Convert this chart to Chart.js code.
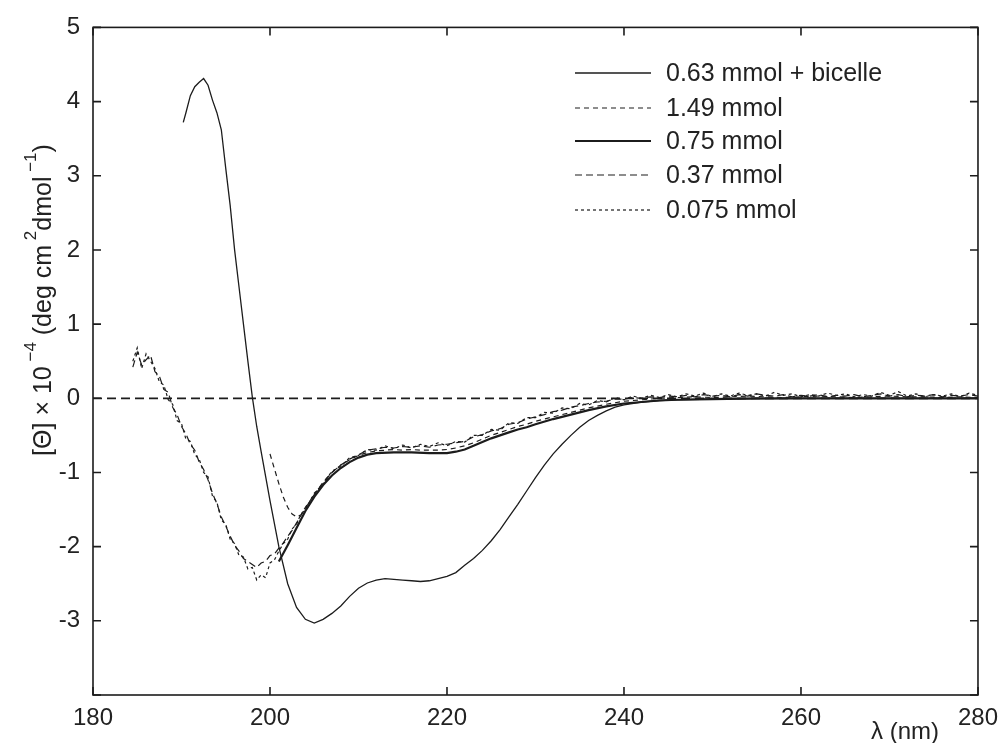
<!DOCTYPE html>
<html>
<head>
<meta charset="utf-8">
<script src="https://cdn.jsdelivr.net/npm/chart.js@4.4.1/dist/chart.umd.min.js"></script>
<style>
  html, body { margin: 0; padding: 0; background: #fff; }
  #wrap { width: 1007px; height: 743px; }
</style>
</head>
<body>
<div id="wrap"><canvas id="cvs_cd"></canvas></div>
<script>
// series names (legend order)
const nomes = ["0.63 mmol + bicelle", "1.49 mmol", "0.75 mmol", "0.37 mmol", "0.075 mmol"];

// 0.63 mmol + bicelle
const wlBicelle = [190.2, 190.5, 191, 191.5, 192, 192.5, 193, 193.5, 194, 194.5, 195, 195.5, 196, 196.5, 197, 197.5, 198, 198.5, 199, 199.5, 200,
  201, 202, 203, 204, 205, 206, 207, 208, 209, 210, 211, 212, 213, 214, 215, 216, 217, 218, 219, 220, 221, 222, 223, 224, 225,
  226, 227, 228, 229, 230, 231, 232, 233, 234, 235, 236, 237, 238, 239, 240, 242, 244, 246, 250, 260, 270, 280];
const thBicelle = [3.72, 3.85, 4.08, 4.2, 4.26, 4.31, 4.22, 4.02, 3.85, 3.62, 3.1, 2.6, 2.0, 1.5, 1.0, 0.5, 0.02, -0.38, -0.72, -1.05, -1.38,
  -2.0, -2.5, -2.82, -2.98, -3.03, -2.98, -2.9, -2.8, -2.67, -2.56, -2.49, -2.45, -2.43, -2.44, -2.45, -2.46, -2.47, -2.46, -2.43, -2.4, -2.35, -2.25, -2.16, -2.05, -1.92,
  -1.77, -1.6, -1.43, -1.25, -1.07, -0.9, -0.75, -0.62, -0.5, -0.39, -0.3, -0.23, -0.17, -0.12, -0.09, -0.05, -0.03, -0.02, -0.01, 0, 0, 0];

// 1.49 mmol
const wl149 = [200, 200.5, 201, 201.5, 202, 202.5, 203, 203.5, 204, 205, 206, 207, 208, 209, 210, 211, 212, 213, 214, 215, 216, 217, 218, 219, 220,
  221, 222, 223, 224, 225, 226, 227, 228, 229, 230, 232, 234, 236, 238, 240, 242, 244, 246, 248, 250, 252, 254, 256, 258, 260,
  262, 264, 266, 268, 270, 272, 274, 276, 278, 280];
const th149 = [-0.75, -0.95, -1.15, -1.33, -1.47, -1.56, -1.6, -1.57, -1.47, -1.3, -1.13, -1.0, -0.9, -0.83, -0.77, -0.73, -0.71, -0.7, -0.69, -0.7, -0.69, -0.7, -0.7, -0.7, -0.69,
  -0.67, -0.64, -0.6, -0.55, -0.5, -0.46, -0.42, -0.38, -0.35, -0.31, -0.25, -0.19, -0.13, -0.08, -0.04, -0.02, 0.0, 0.01, 0.02, 0.01, 0.02, 0.03, 0.02, 0.01, 0.02,
  0.03, 0.02, 0.01, 0.02, 0.03, 0.02, 0.02, 0.01, 0.02, 0.01];

// 0.75 mmol
const wl075 = [201, 202, 203, 204, 205, 206, 207, 208, 209, 210, 211, 212, 214, 216, 218, 220, 221, 222, 223, 224, 225, 226, 227, 228, 229, 230,
  232, 234, 236, 238, 240, 242, 244, 246, 250, 255, 260, 265, 270, 275, 280];
const th075 = [-2.2, -1.98, -1.75, -1.52, -1.33, -1.17, -1.04, -0.94, -0.86, -0.8, -0.76, -0.74, -0.73, -0.73, -0.74, -0.74, -0.72, -0.69, -0.64, -0.59, -0.54, -0.5, -0.46, -0.42, -0.39, -0.35,
  -0.28, -0.22, -0.16, -0.11, -0.07, -0.05, -0.03, -0.02, -0.01, 0, 0, 0, 0, 0, 0];

// 0.37 mmol and 0.075 mmol share the same wavelengths
const wlDil = [184.5, 185, 185.5, 186, 186.5, 187, 187.5, 188, 188.5, 189, 189.5, 190, 190.5, 191, 191.5, 192, 192.5, 193, 193.5, 194,
  194.5, 195, 195.5, 196, 196.5, 197, 197.5, 198, 198.5, 199, 199.5, 200, 200.5, 201, 201.5, 202, 202.5, 203, 203.5, 204,
  205, 206, 207, 208, 209, 210, 211, 212, 213, 214, 215, 216, 217, 218, 219, 220, 221, 222, 223, 224, 225, 226, 227, 228, 229, 230,
  231, 232, 233, 234, 235, 236, 237, 238, 239, 240, 241, 242, 243, 244, 245, 246, 247, 248, 249, 250, 251, 252, 253, 254, 255,
  256, 257, 258, 259, 260, 261, 262, 263, 264, 265, 266, 267, 268, 269, 270, 271, 272, 273, 274, 275, 276, 277, 278, 279, 280];
const th037 = [0.42, 0.62, 0.45, 0.52, 0.58, 0.36, 0.3, 0.12, 0.08, -0.12, -0.22, -0.38, -0.48, -0.62, -0.7, -0.86, -0.96, -1.1, -1.28, -1.42,
  -1.6, -1.72, -1.86, -1.98, -2.06, -2.16, -2.2, -2.24, -2.28, -2.22, -2.2, -2.12, -2.1, -2.02, -1.95, -1.86, -1.78, -1.68, -1.58, -1.48,
  -1.3, -1.14, -1.0, -0.9, -0.82, -0.76, -0.7, -0.68, -0.66, -0.67, -0.65, -0.66, -0.64, -0.66, -0.63, -0.62, -0.6, -0.58, -0.52, -0.49, -0.44, -0.41, -0.35, -0.33, -0.28, -0.25,
  -0.22, -0.18, -0.16, -0.12, -0.1, -0.07, -0.05, -0.04, -0.01, -0.01, 0.01, 0.0, 0.02, 0.01, 0.03, 0.02, 0.04, 0.02, 0.05, 0.03, 0.04, 0.02, 0.05, 0.03, 0.06,
  0.04, 0.03, 0.05, 0.02, 0.04, 0.03, 0.05, 0.02, 0.04, 0.03, 0.05, 0.02, 0.04, 0.06, 0.03, 0.05, 0.02, 0.04, 0.03, 0.05, 0.02, 0.04, 0.03, 0.05, 0.03];
const th0075 = [0.5, 0.68, 0.4, 0.6, 0.5, 0.4, 0.22, 0.18, -0.02, -0.08, -0.3, -0.34, -0.55, -0.58, -0.76, -0.82, -1.0, -1.06, -1.32, -1.4,
  -1.64, -1.7, -1.9, -1.96, -2.12, -2.14, -2.3, -2.28, -2.45, -2.38, -2.42, -2.22, -2.18, -2.06, -1.96, -1.9, -1.76, -1.7, -1.56, -1.5,
  -1.28, -1.16, -0.98, -0.92, -0.8, -0.77, -0.69, -0.7, -0.64, -0.68, -0.63, -0.67, -0.62, -0.65, -0.6, -0.64, -0.58, -0.59, -0.5, -0.5, -0.42, -0.43, -0.33, -0.34, -0.26, -0.26,
  -0.19, -0.2, -0.13, -0.14, -0.07, -0.09, -0.03, -0.05, 0.01, -0.02, 0.03, 0.0, 0.04, 0.01, 0.05, 0.02, 0.06, 0.03, 0.07, 0.02, 0.06, 0.03, 0.07, 0.04, 0.06,
  0.03, 0.08, 0.04, 0.06, 0.02, 0.05, 0.03, 0.07, 0.04, 0.06, 0.02, 0.05, 0.03, 0.08, 0.04, 0.09, 0.03, 0.06, 0.02, 0.05, 0.03, 0.06, 0.02, 0.07, 0.04];

// reference line at zero
const wlZero = [180, 280];
const thZero = [0, 0];

const xTicks = [180, 200, 220, 240, 260, 280];
const yTicks = [-4, -3, -2, -1, 0, 1, 2, 3, 4, 5];

const corLinha = "#1c1c1c";
const corTexto = "#222";
const fonte = "'Liberation Sans', Arial, sans-serif";

function pontos(xs, ys) {
  return xs.map(function (x, i) { return { x: x, y: ys[i] }; });
}

function serie(nome, xs, ys, largura, tracejado) {
  return {
    label: nome,
    data: pontos(xs, ys),
    borderColor: corLinha,
    borderWidth: largura,
    borderDash: tracejado,
    pointRadius: 0,
    tension: 0,
    fill: false,
  };
}

// moldura com marcas para dentro, legenda e titulos dos eixos
const moldura = {
  id: "moldura",
  afterDraw(chart) {
    const ctx = chart.ctx;
    const a = chart.chartArea;
    const sx = chart.scales.x;
    const sy = chart.scales.y;
    ctx.save();
    ctx.strokeStyle = corLinha;
    ctx.lineWidth = 1.6;
    ctx.setLineDash([]);
    ctx.strokeRect(a.left, a.top, a.right - a.left, a.bottom - a.top);
    const tam = 8;
    ctx.beginPath();
    xTicks.forEach(function (v) {
      const px = sx.getPixelForValue(v);
      ctx.moveTo(px, a.bottom); ctx.lineTo(px, a.bottom - tam);
      ctx.moveTo(px, a.top); ctx.lineTo(px, a.top + tam);
    });
    yTicks.forEach(function (v) {
      const py = sy.getPixelForValue(v);
      ctx.moveTo(a.left, py); ctx.lineTo(a.left + tam, py);
      ctx.moveTo(a.right, py); ctx.lineTo(a.right - tam, py);
    });
    ctx.stroke();

    // legenda
    const linhasY = [73, 108, 141, 175, 210];
    ctx.font = "25px " + fonte;
    ctx.textBaseline = "middle";
    ctx.textAlign = "left";
    ctx.fillStyle = corTexto;
    for (let i = 0; i < nomes.length; i++) {
      const ds = chart.data.datasets[i];
      ctx.beginPath();
      ctx.lineWidth = ds.borderWidth;
      ctx.setLineDash(ds.borderDash || []);
      ctx.moveTo(575, linhasY[i]);
      ctx.lineTo(651, linhasY[i]);
      ctx.stroke();
      ctx.fillText(ds.label, 666, linhasY[i] + 1);
    }
    ctx.setLineDash([]);

    // titulo do eixo x
    ctx.textAlign = "center";
    ctx.font = "24px " + fonte;
    ctx.fillText("λ (nm)", 905, 732);

    // titulo do eixo y com sobrescritos
    const partes = [
      ["[Θ] × 10", false], [" −4", true], [" (deg cm", false], [" 2", true],
      ["dmol", false], [" −1", true], [")", false],
    ];
    let total = 0;
    partes.forEach(function (p) {
      ctx.font = (p[1] ? "17px " : "25px ") + fonte;
      total += ctx.measureText(p[0]).width;
    });
    ctx.translate(42, 300);
    ctx.rotate(-Math.PI / 2);
    ctx.textAlign = "left";
    ctx.textBaseline = "alphabetic";
    let pos = -total / 2;
    partes.forEach(function (p) {
      ctx.font = (p[1] ? "17px " : "25px ") + fonte;
      ctx.fillText(p[0], pos, p[1] ? -6 : 9);
      pos += ctx.measureText(p[0]).width;
    });
    ctx.restore();
  },
};

new Chart(document.getElementById("cvs_cd"), {
  type: "line",
  data: {
    datasets: [
      serie(nomes[0], wlBicelle, thBicelle, 1.3, []),
      serie(nomes[1], wl149, th149, 1.2, [5, 4]),
      serie(nomes[2], wl075, th075, 2.2, []),
      serie(nomes[3], wlDil, th037, 1.2, [7, 4]),
      serie(nomes[4], wlDil, th0075, 1.2, [3, 3]),
      serie("zero", wlZero, thZero, 1.8, [9, 5]),
    ],
  },
  options: {
    responsive: true,
    maintainAspectRatio: false,
    animation: false,
    layout: { padding: { top: 25, right: 28, left: 0, bottom: 0 } },
    plugins: {
      legend: { display: false },
      tooltip: { enabled: false },
    },
    scales: {
      x: {
        type: "linear",
        min: 180,
        max: 280,
        afterBuildTicks: function (s) { s.ticks = xTicks.map(function (v) { return { value: v }; }); },
        afterFit: function (s) { s.height = 48; },
        grid: { display: false, drawTicks: false },
        border: { display: false },
        ticks: { color: corTexto, font: { size: 24, family: fonte }, padding: 9, maxRotation: 0 },
      },
      y: {
        type: "linear",
        min: -4,
        max: 5,
        afterBuildTicks: function (s) { s.ticks = yTicks.map(function (v) { return { value: v }; }); },
        afterFit: function (s) { s.width = 93; },
        grid: { display: false, drawTicks: false },
        border: { display: false },
        ticks: {
          color: corTexto,
          font: { size: 24, family: fonte },
          padding: 13,
          callback: function (v) { return v === -4 ? "" : String(v); },
        },
      },
    },
  },
  plugins: [moldura],
});
</script>
</body>
</html>
